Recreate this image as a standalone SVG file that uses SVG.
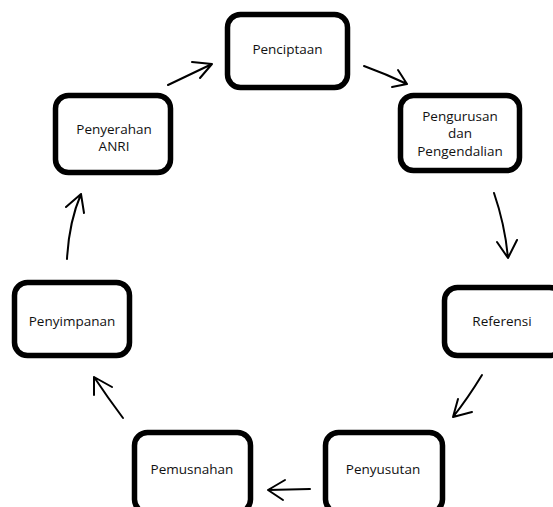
<svg xmlns="http://www.w3.org/2000/svg" width="553" height="507" viewBox="0 0 553 507">
<style>
.box{fill:#fff;stroke:#000;stroke-width:5.5}
.t{font-family:"Open Sans","Noto Sans",sans-serif;font-size:13.5px;fill:#111;text-anchor:middle}
.c{fill:none;stroke:#000;stroke-width:2;stroke-linecap:round;stroke-linejoin:round}
</style>
<rect width="553" height="507" fill="#fff"/>
<g id="penciptaan"><rect class="box" x="227.5" y="14.5" width="120" height="73" rx="13"/><text class="t" x="287.5" y="54">Penciptaan</text></g>
<g id="pengurusan"><rect class="box" x="400.5" y="95.5" width="119" height="75" rx="13"/><text class="t" x="460" y="121">Pengurusan</text><text class="t" x="460" y="138">dan</text><text class="t" x="460" y="156">Pengendalian</text></g>
<g id="referensi"><rect class="box" x="444.5" y="287.5" width="118" height="68" rx="13"/><text class="t" x="502" y="326">Referensi</text></g>
<g id="penyusutan"><rect class="box" x="325.5" y="432.5" width="117" height="80" rx="13"/><text class="t" x="383" y="474">Penyusutan</text></g>
<g id="pemusnahan"><rect class="box" x="134.5" y="432.5" width="116" height="80" rx="13"/><text class="t" x="192" y="474">Pemusnahan</text></g>
<g id="penyimpanan"><rect class="box" x="14.5" y="282.5" width="115" height="73" rx="13"/><text class="t" x="72" y="326">Penyimpanan</text></g>
<g id="penyerahan"><rect class="box" x="55.5" y="95.5" width="115" height="77" rx="13"/><text class="t" x="114" y="134">Penyerahan</text><text class="t" x="114" y="151">ANRI</text></g>
<g id="connectors">
<path class="c" d="M168 85 L212 64 M192 62 L212 64 L200 78"/>
<path class="c" d="M364 66 Q386 74 407 84 M398 70 L407 84 L392 87"/>
<path class="c" d="M494 193 Q505 225 508 258 M497 242 L508 258 L517 240"/>
<path class="c" d="M482 375 Q468 398 453 417 M458 399 L453 417 L472 412"/>
<path class="c" d="M310 489 L268 490 M285 480 L268 490 L283 500"/>
<path class="c" d="M123 418 Q108 398 94 377 M94 395 L94 377 L112 387"/>
<path class="c" d="M67 259 Q69 222 81 194 M66 207 L81 194 L84 213"/>
</g>
</svg>
